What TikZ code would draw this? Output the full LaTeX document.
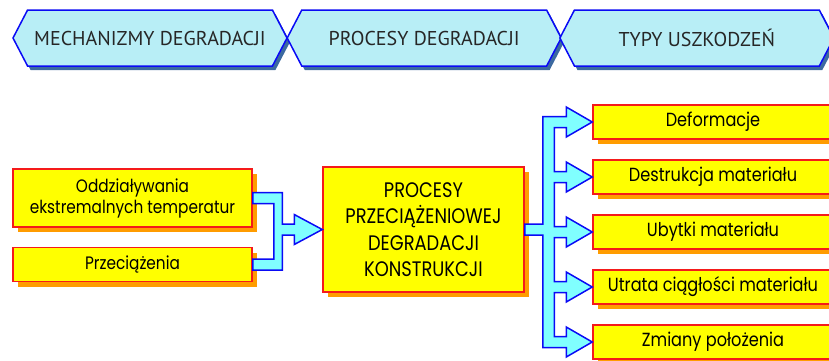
\documentclass[tikz,border=0pt]{standalone}
\usepackage{fontspec}
\setmainfont[FakeStretch=0.85]{Poppins}
\newfontfamily\headfont{PT Sans}
\usepackage{tikz}
\usetikzlibrary{calc,positioning,shapes.symbols,shadows}

\definecolor{hexfill}{HTML}{B8EEF6}
\definecolor{hexline}{HTML}{0A0AF5}
\definecolor{hexshade}{HTML}{3C6AA0}
\definecolor{boxfill}{HTML}{FFFF00}
\definecolor{boxline}{HTML}{F51A1A}
\definecolor{boxshade}{HTML}{FF9C00}
\definecolor{bandfill}{HTML}{80FFFF}

\begin{document}
\begin{tikzpicture}[x=1pt,y=-1pt,
    header/.style={shape=signal,signal to=east and west,signal pointer angle=125,
      draw=hexline,line width=1.5pt,fill=hexfill,minimum width=274pt,minimum height=56pt,
      inner sep=0pt,text=black!85,font=\headfont\fontsize{20}{22}\selectfont,
      copy shadow={shadow xshift=3pt,shadow yshift=-4pt,fill=hexshade,draw=none}},
    ybox/.style={draw=boxline,line width=1.5pt,fill=boxfill,inner sep=0pt,align=center,
      font=\fontsize{18}{21}\selectfont,
      copy shadow={shadow xshift=5pt,shadow yshift=-5pt,fill=boxshade,draw=none}},
    rbox/.style={ybox,minimum width=240pt,minimum height=34pt,font=\fontsize{19}{21}\selectfont},
    band/.style={draw=hexline,line width=1.5pt,fill=bandfill,line join=miter}]
    \path[use as bounding box,clip] (0,0) rectangle (829,360);

    \node(h1)[header] at (150,38) {MECHANIZMY DEGRADACJI};
    \node(h2)[header,right=-1.5pt of h1] {PROCESY DEGRADACJI};
    \node(h3)[header,right=-3pt of h2] {TYPY USZKODZEŃ};

    \node(o1)[ybox,minimum width=239pt,minimum height=58pt] at (132.5,198) {Oddziaływania\\ekstremalnych temperatur};
    \node(o2)[ybox,minimum width=239pt,minimum height=34pt,below=19pt of o1] {Przeciążenia};

    \node(proc)[ybox,minimum width=201pt,minimum height=125pt,font=\fontsize{21}{26.5}\selectfont] at (423.5,229.5)
      {PROCESY\\PRZECIĄŻENIOWEJ\\DEGRADACJI\\KONSTRUKCJI};

    \node(r1)[rbox] at (713,122) {Deformacje};
    \node(r2)[rbox,below=19.5pt of r1] {Destrukcja materiału};
    \node(r3)[rbox,below=19.5pt of r2] {Ubytki materiału};
    \node(r4)[rbox,below=19.5pt of r3] {Utrata ciągłości materiału};
    \node(r5)[rbox,below=19.5pt of r4] {Zmiany położenia};

    \path[band] ($(o1.east)+(0,-5.5)$) -| ($(proc.west)+(-40,-5.5)$) -- ++(12,0) -- ++(0,-9.5)
      -- (proc.west) -- ($(proc.west)+(-28,15)$) -- ++(0,-9.5) -- ++(-12,0)
      |- ($(o2.east)+(0,5.5)$) -- ($(o2.east)+(0,-5.5)$) -| ($(o1.east)+(21,5.5)$)
      -- ($(o1.east)+(0,5.5)$) -- cycle;

    \path[band] ($(proc.east)+(0,-5.5)$) -- ++(18,0)
      |- ($(r1.west)+(-26,-5.5)$) -- ++(0,-9.5) -- (r1.west) -- ($(r1.west)+(-26,15)$) -- ++(0,-9.5) -- ++(-12,0)
      |- ($(r2.west)+(-26,-5.5)$) -- ++(0,-9.5) -- (r2.west) -- ($(r2.west)+(-26,15)$) -- ++(0,-9.5) -- ++(-12,0)
      |- ($(r3.west)+(-26,-5.5)$) -- ++(0,-9.5) -- (r3.west) -- ($(r3.west)+(-26,15)$) -- ++(0,-9.5) -- ++(-12,0)
      |- ($(r4.west)+(-26,-5.5)$) -- ++(0,-9.5) -- (r4.west) -- ($(r4.west)+(-26,15)$) -- ++(0,-9.5) -- ++(-12,0)
      |- ($(r5.west)+(-26,-5.5)$) -- ++(0,-9.5) -- (r5.west) -- ($(r5.west)+(-26,15)$) -- ++(0,-9.5)
      -| ($(proc.east)+(18,5.5)$) -- ($(proc.east)+(0,5.5)$) -- cycle;

  \end{tikzpicture}
\end{document}
